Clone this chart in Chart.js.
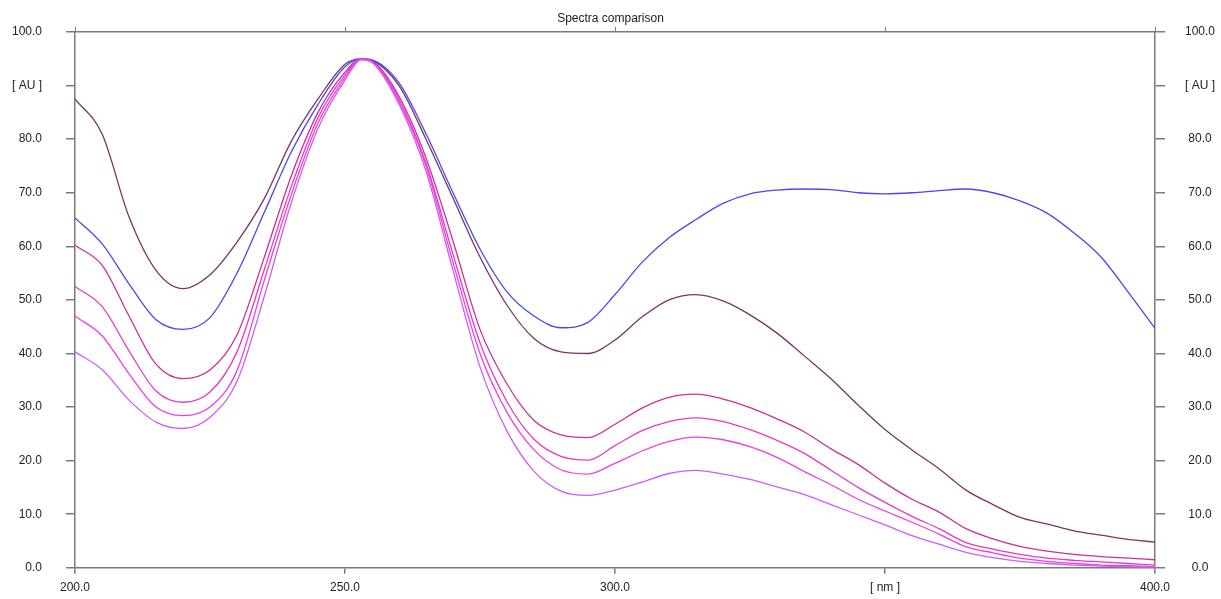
<!DOCTYPE html>
<html>
<head>
<meta charset="utf-8">
<title>Spectra comparison</title>
<script src="https://cdn.jsdelivr.net/npm/chart.js@4.4.1/dist/chart.umd.min.js"></script>
<style>
  html, body { margin: 0; padding: 0; background: #fff; }
  #wrap { position: relative; width: 1221px; height: 599px; }
</style>
</head>
<body>
<div id="wrap"><canvas id="chart-spectra"></canvas></div>
<script>
// wavelength axis [nm]
const wavelengths = [200, 205, 210, 215, 220, 225, 230, 235, 240, 245, 250, 253, 255, 260, 265, 270, 275, 280, 285, 290,
  295, 300, 305, 310, 315, 320, 325, 330, 335, 340, 345, 350, 355, 360, 365, 370, 375, 380, 385, 390, 395, 400];

// absorbance [AU], one array per spectrum
const spectrumMauve = [87.5, 81, 65.5, 55.5, 52.1, 54.7, 60.8, 68.8, 79.5, 87.5, 94, 95, 94.7, 90, 80, 69, 58, 49, 42.8, 40.3,
  40, 42.5, 46.8, 50, 51, 49.8, 47.2, 43.8, 39.6, 35.3, 30.4, 25.8, 22, 18.5, 14.5, 11.8, 9.4, 8.2, 6.9, 6.1, 5.3, 4.8];
const spectrumBlue = [65.3, 60.5, 53, 46.3, 44.5, 46.7, 55, 66.2, 77.5, 86.5, 93.5, 95, 94.8, 90.5, 81, 70, 59.5, 51.5, 47, 44.8,
  45.8, 51, 57, 61.6, 65, 68, 69.8, 70.5, 70.7, 70.6, 70, 69.8, 70, 70.4, 70.7, 70, 68.5, 66.2, 62.5, 58, 51.5, 44.7];
const spectrumPink1 = [60.2, 56.5, 47, 38, 35.3, 36.9, 43.5, 57.8, 73, 85, 92.5, 95, 94.6, 88, 76.5, 61, 44.5, 34.3, 27.5, 24.8,
  24.3, 26.8, 29.8, 31.8, 32.4, 31.5, 29.9, 27.8, 25.4, 22.2, 19.3, 15.8, 12.8, 10.4, 7.3, 5.4, 4, 3.1, 2.5, 2.1, 1.8, 1.5];
const spectrumPink2 = [52.5, 48.8, 40.5, 33, 30.9, 32.8, 40.3, 55.5, 71, 84, 92, 95, 94.5, 87.5, 75.5, 58.5, 42, 31, 24, 20.8,
  20.1, 22.8, 25.6, 27.3, 28, 27.3, 25.8, 23.8, 21.4, 18.2, 15, 12.2, 9.6, 7.3, 4.7, 3.5, 2.5, 1.8, 1.4, 1.1, 0.8, 0.5];
const spectrumPink3 = [47, 43.3, 36.2, 30, 28.4, 30, 36.8, 53.5, 69.5, 83, 91.5, 95, 94.5, 87, 75, 57, 40, 29, 22, 18.3,
  17.5, 19.5, 21.8, 23.6, 24.4, 23.9, 22.6, 20.6, 18, 15.5, 12.8, 10.6, 8.5, 6.3, 3.9, 2.8, 1.8, 1.2, 0.8, 0.5, 0.4, 0.2];
const spectrumPink4 = [40.3, 37, 31.3, 27.2, 26, 28.1, 34.8, 50.5, 68, 82, 91, 94.8, 94.3, 86.5, 74, 55.5, 37.5, 25.5, 18, 14.3,
  13.5, 14.5, 16, 17.6, 18.2, 17.5, 16.5, 15.1, 13.7, 11.8, 9.9, 8, 6, 4.4, 2.9, 1.9, 1.2, 0.8, 0.5, 0.3, 0.2, 0.1];

// tick labels
const xTickLabels = { 200: "200.0", 250: "250.0", 300: "300.0", 350: "[ nm ]", 400: "400.0" };
const yTickLabels = { 90: "[ AU ]" };

const AXIS_COLOR = "#7a7a7a";
const TEXT_COLOR = "#222";
const FONT = { family: "'Liberation Sans', Arial, sans-serif", size: 12 };

function toPoints(values) {
  return values.map((v, i) => ({ x: wavelengths[i], y: v }));
}

function spectrum(label, values, color) {
  return {
    label,
    data: toPoints(values),
    borderColor: color,
    backgroundColor: color,
    borderWidth: 1.3,
    pointRadius: 0,
    cubicInterpolationMode: "monotone",
    fill: false,
  };
}

function yLabel(v) {
  return yTickLabels[v] || Number(v).toFixed(1);
}

// pin the plot frame to the reference layout
const fixWidth = (w) => (scale) => { scale.width = w; };
const fixHeight = (h) => (scale) => { scale.height = h; };

new Chart(document.getElementById("chart-spectra"), {
  type: "line",
  data: {
    datasets: [
      spectrum("Pink 4", spectrumPink4, "#d05cf6"),
      spectrum("Pink 3", spectrumPink3, "#f03ee0"),
      spectrum("Pink 2", spectrumPink2, "#e83ac0"),
      spectrum("Pink 1", spectrumPink1, "#cc3098"),
      spectrum("Blue", spectrumBlue, "#4848f0"),
      spectrum("Mauve", spectrumMauve, "#7a3562"),
    ],
  },
  options: {
    responsive: true,
    maintainAspectRatio: false,
    animation: false,
    layout: { padding: 0 },
    plugins: {
      legend: { display: false },
      tooltip: { enabled: false },
      title: {
        display: true,
        text: "Spectra comparison",
        color: TEXT_COLOR,
        font: { ...FONT, weight: "normal" },
        padding: { top: 11, bottom: 0 },
      },
    },
    scales: {
      x: {
        type: "linear",
        position: "bottom",
        min: 200,
        max: 400,
        afterFit: fixHeight(27),
        border: { display: true, color: AXIS_COLOR, width: 1.5 },
        grid: { drawOnChartArea: false, drawTicks: true, tickLength: 6, color: AXIS_COLOR, lineWidth: 1.5 },
        ticks: {
          stepSize: 50,
          padding: 7,
          maxRotation: 0,
          autoSkip: false,
          color: TEXT_COLOR,
          font: FONT,
          callback: (v) => xTickLabels[v] || "",
        },
      },
      xTop: {
        type: "linear",
        position: "top",
        min: 200,
        max: 400,
        afterFit: fixHeight(6.6),
        border: { display: true, color: AXIS_COLOR, width: 1.5 },
        grid: { drawOnChartArea: false, drawTicks: true, tickLength: 5, color: AXIS_COLOR, lineWidth: 1 },
        ticks: { stepSize: 50, display: false },
      },
      y: {
        type: "linear",
        position: "left",
        min: 0,
        max: 100,
        afterFit: fixWidth(75),
        border: { display: true, color: AXIS_COLOR, width: 1.5 },
        grid: { drawOnChartArea: false, drawTicks: true, tickLength: 9, color: AXIS_COLOR, lineWidth: 1.5 },
        ticks: { stepSize: 10, padding: 24, color: TEXT_COLOR, font: FONT, callback: yLabel },
      },
      yRight: {
        type: "linear",
        position: "right",
        min: 0,
        max: 100,
        afterFit: fixWidth(66),
        border: { display: true, color: AXIS_COLOR, width: 1.5 },
        grid: { drawOnChartArea: false, drawTicks: true, tickLength: 10, color: AXIS_COLOR, lineWidth: 1.5 },
        ticks: { stepSize: 10, padding: 20, crossAlign: "center", color: TEXT_COLOR, font: FONT, callback: yLabel },
      },
    },
  },
});
</script>
</body>
</html>
